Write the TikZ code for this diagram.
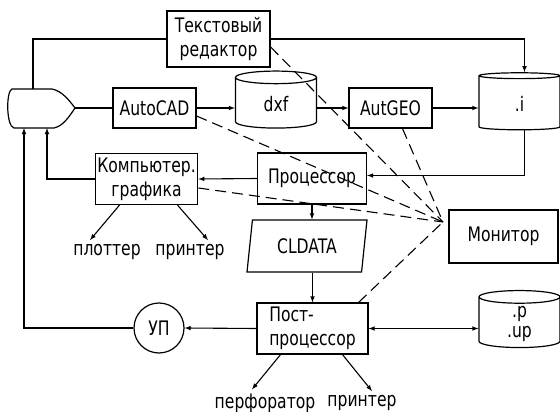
\documentclass[tikz,border=0pt]{standalone}
\usepackage{fontspec}
\setmainfont{DejaVu Sans}[FakeStretch=0.78]
\usetikzlibrary{shapes.geometric,calc}

\tikzset{
  box/.style={draw,line width=1.2pt,minimum width=#1,minimum height=51pt,inner sep=2pt,align=center},
  box/.default=83pt,
  store/.style={draw,line width=1.2pt,cylinder,shape border rotate=90,aspect=0.44,
    minimum width=81pt,minimum height=57pt,inner sep=2pt,align=center},
  lbl/.style={inner sep=1pt},
  conn/.style={line width=1.1pt},
  monline/.style={line width=1.1pt,dash pattern=on 11pt off 6pt},
}

\begin{document}
\begin{tikzpicture}[x=1pt,y=-1pt,font=\fontsize{20}{24}\selectfont,>=latex]
\useasboundingbox (0,0) rectangle (560,412);
% user terminal
\draw[line width=1.2pt] (12,89) -- (52,89) .. controls (62,91) and (69,100) .. (75,108)
  .. controls (69,117) and (63,126) .. (54,128) -- (14,128) .. controls (6,126) and (6,91) .. (12,89) -- cycle;
\coordinate (dtip) at (75,108);
\coordinate (dtop) at (33,89);
\coordinate (dbot1) at (24,128);
\coordinate (dbot2) at (47,128);
% blocks
\node[box=103pt,minimum height=56pt] (ted) at (218.5,39) {Текстовый\\редактор};
\node[box,minimum height=40pt] (acad) at (154.5,108) {AutoCAD};
\node[store] (dxf) at (276,104) {dxf};
\node[box,minimum height=40pt] (ageo) at (390.5,108) {AutGEO};
\node[store] (ifile) at (519.5,103.5) {.i};
\node[box=109pt] (proc) at (312,178.5) {Процессор};
\node[box=99pt] (cg) at (146.5,179) {Компьютер.\\графика};
\node[draw,line width=1.2pt,trapezium,trapezium left angle=76,trapezium right angle=104,
  trapezium stretches body,minimum width=120pt,minimum height=52pt] (cld) at (307,246) {CLDATA};
\node[box=111pt,align=left] (post) at (312.5,328.5) {Пост-\\процессор};
\node[draw,line width=1.2pt,circle,minimum size=50pt,inner sep=0pt] (up) at (159,328) {УП};
\node[store,font=\fontsize{20}{20}\selectfont] (pup) at (519.5,323.5) {.p\\.up};
\node[box=109pt,minimum height=53pt] (mon) at (503.5,236.5) {Монитор};
% outputs
\node[lbl] (plot) at (107,252) {плоттер};
\node[lbl] (prn1) at (190,252) {принтер};
\node[lbl] (perf) at (265,403) {перфоратор};
\node[lbl] (prn2) at (362,403) {принтер};
\coordinate (hub) at (443,222);
% connections
\draw[conn] (dtop) |- (ted.west);
\draw[conn,->] (ted.east) -| ([xshift=5pt]ifile.north);
\draw[conn] (dtip) -- (acad.west);
\draw[conn,->] (acad.east) -- (acad.east -| dxf.west);
\draw[conn,->] (ageo.west -| dxf.east) -- (ageo.west);
\draw[conn,->] (ageo.east) -- (ageo.east -| ifile.west);
\draw[conn,->] ([xshift=5pt]ifile.south) |- ([yshift=3pt]proc.east);
\draw[conn,->] (proc.west) -- (cg.east);
\draw[conn,->] (cg.west) -| (dbot2);
\draw[conn,->] (proc.south) -- (proc.south |- cld.north);
\draw[conn,->] (cld.south -| post.north) -- (post.north);
\draw[conn,->] (post.west) -- (up.east);
\draw[conn,->] (up.west) -| (dbot1);
\draw[conn,<->] (post.east) -- (post.east -| pup.west);
\draw[conn,->] ([xshift=-27pt]cg.south) -- ([xshift=-17pt,yshift=3pt]plot.north);
\draw[conn,->] ([xshift=31pt]cg.south) -- ([xshift=18pt,yshift=3pt]prn1.north);
\draw[conn,->] ([xshift=-32pt]post.south) -- ([xshift=-13pt,yshift=3pt]perf.north);
\draw[conn,->] ([xshift=30pt]post.south) -- ([xshift=10pt,yshift=3pt]prn2.north);
% monitor links
\draw[monline] ([yshift=-8pt]ted.east) -- (hub);
\draw[monline] ([yshift=-8pt]acad.east) -- (hub);
\draw[monline] ([xshift=12pt]ageo.south) -- (hub);
\draw[monline] ([yshift=-9pt]cg.east) -- (hub);
\draw[monline] ([xshift=-10pt]post.north east) -- (hub);
\end{tikzpicture}
\end{document}
